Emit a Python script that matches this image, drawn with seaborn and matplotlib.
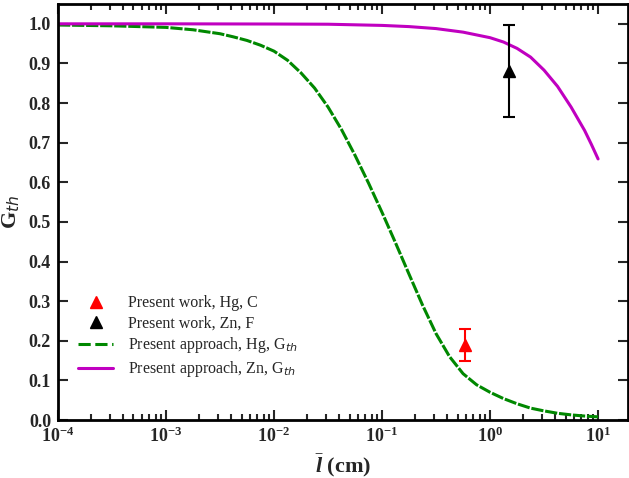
import numpy as np
import pandas as pd
import seaborn as sns
import matplotlib
matplotlib.use('Agg')
import matplotlib.pyplot as plt
from matplotlib.lines import Line2D
from matplotlib.ticker import FixedLocator, LogLocator, FuncFormatter, NullFormatter

# Hg curve (x given as log10 of l in cm)
hg_logl = [-4.0, -3.5, -3.0, -2.75, -2.5, -2.375, -2.25, -2.125, -2.0, -1.875,
           -1.75, -1.625, -1.5, -1.375, -1.25, -1.125, -1.0, -0.875, -0.75, -0.625,
           -0.5, -0.375, -0.25, -0.125, 0.0, 0.125, 0.25, 0.375, 0.5, 0.625,
           0.75, 0.875, 1.0]
hg_g = [0.997, 0.995, 0.991, 0.985, 0.975, 0.967, 0.958, 0.946, 0.931, 0.908,
        0.876, 0.838, 0.790, 0.733, 0.668, 0.598, 0.524, 0.447, 0.368, 0.290,
        0.218, 0.160, 0.117, 0.089, 0.070, 0.054, 0.041, 0.030, 0.023, 0.017,
        0.013, 0.010, 0.008]

# Zn curve
zn_logl = [-4.0, -3.0, -2.0, -1.5, -1.0, -0.75, -0.5, -0.25, 0.0, 0.125, 0.25,
           0.375, 0.5, 0.625, 0.75, 0.875, 0.9375, 1.0]
zn_g = [1.0, 1.0, 0.9995, 0.999, 0.996, 0.993, 0.988, 0.979, 0.965, 0.954, 0.938,
        0.916, 0.883, 0.842, 0.790, 0.731, 0.696, 0.659]

# measured points: x, y, low, high
hg_pt = (0.59, 0.19, 0.149, 0.230)
zn_pt = (1.5, 0.88, 0.765, 0.996)

sns.set_style('ticks')
plt.rcParams['font.family'] = ['Liberation Serif', 'DejaVu Serif']
plt.rcParams['mathtext.fontset'] = 'custom'
plt.rcParams['mathtext.rm'] = 'Liberation Serif'
plt.rcParams['mathtext.it'] = 'DejaVu Sans:italic'
plt.rcParams['mathtext.bf'] = 'Liberation Serif:bold'
plt.rcParams['mathtext.bfit'] = 'Liberation Serif:italic:bold'

fig = plt.figure(figsize=(6.29, 4.78), dpi=100)
ax = fig.add_axes([0.0922, 0.1213, 0.9065, 0.8703])

df_hg = pd.DataFrame({'l': np.power(10.0, hg_logl), 'g': hg_g})
df_zn = pd.DataFrame({'l': np.power(10.0, zn_logl), 'g': zn_g})
sns.lineplot(data=df_hg, x='l', y='g', ax=ax, color='#008800', lw=2.2,
             linestyle=(0, (4, 0.6)))
sns.lineplot(data=df_zn, x='l', y='g', ax=ax, color='#c000c0', lw=2.2)

ax.errorbar([hg_pt[0]], [hg_pt[1]], yerr=[[hg_pt[1] - hg_pt[2]], [hg_pt[3] - hg_pt[1]]],
            fmt='^', color='red', ms=9, capsize=4, elinewidth=1.5, capthick=1.5)
ax.errorbar([zn_pt[0]], [zn_pt[1]], yerr=[[zn_pt[1] - zn_pt[2]], [zn_pt[3] - zn_pt[1]]],
            fmt='^', color='black', ms=9, capsize=4, elinewidth=1.5, capthick=1.5)

ax.set_xscale('log')
ax.set_xlim(1e-4, 19)
ax.set_ylim(0, 1.05)
ax.yaxis.set_major_locator(FixedLocator(np.arange(0, 1.01, 0.1)))
ax.yaxis.set_major_formatter(FuncFormatter(lambda v, p: '%.1f' % v))
ax.xaxis.set_major_locator(LogLocator(base=10, numticks=10))
ax.xaxis.set_minor_locator(LogLocator(base=10, subs=np.arange(2, 10), numticks=20))
ax.xaxis.set_minor_formatter(NullFormatter())
ax.xaxis.set_major_formatter(FuncFormatter(
    lambda v, p: r'$\mathbf{10^{%d}}$' % int(round(np.log10(v)))))

for s in ax.spines.values():
    s.set_linewidth(2)
    s.set_color('black')
ax.tick_params(which='both', direction='in', top=True, right=True, width=1.5,
               labelsize=13, pad=5)
ax.tick_params(which='major', length=7)
ax.tick_params(which='minor', length=4)
for t in ax.get_yticklabels() + ax.get_xticklabels():
    t.set_fontweight('bold')

ax.set_xlabel(r'$\bar{\mathbfit{l}}$ (cm)', fontsize=16, fontweight='bold', labelpad=4)
ax.set_ylabel(r'G$_{th}$', fontsize=16, fontweight='bold', labelpad=5)

handles = [
    Line2D([], [], ls='none', marker='^', color='red', ms=9),
    Line2D([], [], ls='none', marker='^', color='black', ms=9),
    Line2D([], [], color='#008800', lw=2.2, linestyle=(0, (4, 1.5, 4, 1.5, 1, 1.5))),
    Line2D([], [], color='#c000c0', lw=2.2),
]
labels = ['Present work, Hg, C', 'Present work, Zn, F',
          r'Present approach, Hg, G$_{th}$', r'Present approach, Zn, G$_{th}$']
ax.legend(handles, labels, loc='lower left', bbox_to_anchor=(0.01, 0.063),
          frameon=False, fontsize=11.5, handlelength=2.2, handletextpad=0.9,
          labelspacing=0.25)

fig.savefig('out.png', dpi=100)
